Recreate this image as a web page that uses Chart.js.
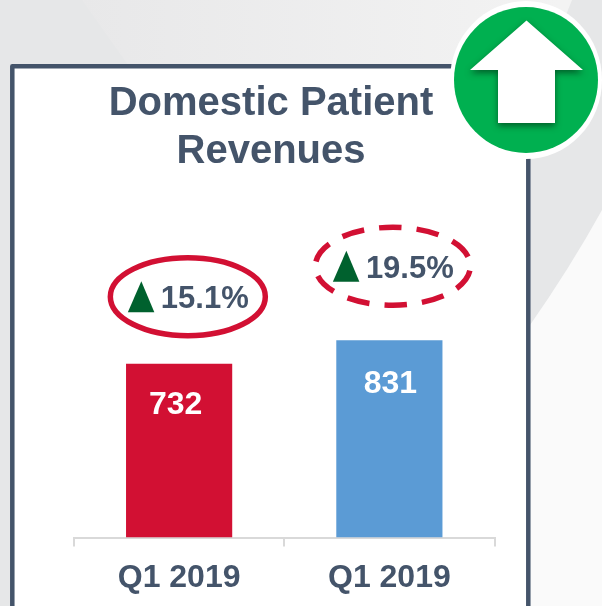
<!DOCTYPE html>
<html><head><meta charset="utf-8">
<style>html,body{margin:0;padding:0;background:#e6e7e8}canvas{display:block}</style>
<script src="https://cdn.jsdelivr.net/npm/chart.js@4"></script></head>
<body><div style="width:602px;height:606px;position:relative"><canvas id="c" width="602" height="606"></canvas></div>
<script>
const categories = ['Q1 2019', 'Q1 2019'];
const revenues = [732, 831];
const changes = ['15.1%', '19.5%'];
const barColors = ['#d21033', '#5b9bd5'];
const titleLines = ['Domestic Patient', 'Revenues'];
const FONT = '"Liberation Sans", Arial, sans-serif';
const TEXT = '#44546a', RED = '#d21033', UP = '#00612e';

const scenery = {
  id: 'scenery',
  beforeDraw(chart) {
    const c = chart.ctx;
    c.save();
    c.fillStyle = '#e6e7e8'; c.fillRect(0, 0, 602, 606);
    let g = c.createLinearGradient(80, 0, 560, 0);
    g.addColorStop(0, '#e8e8e9'); g.addColorStop(1, '#f3f3f3');
    c.fillStyle = g;
    c.beginPath(); c.moveTo(82, 0); c.lineTo(572, 0); c.lineTo(520, 130); c.lineTo(160, 110); c.closePath(); c.fill();
    c.fillStyle = '#fafafa';
    c.beginPath(); c.moveTo(602, 210); c.quadraticCurveTo(570, 268, 528, 328); c.lineTo(528, 606); c.lineTo(602, 606); c.closePath(); c.fill();
    c.fillStyle = '#ffffff'; c.strokeStyle = TEXT; c.lineWidth = 4.5;
    c.lineJoin = 'round';
    c.beginPath(); c.moveTo(12.3, 620); c.lineTo(12.3, 66.3); c.lineTo(528.3, 66.3); c.lineTo(528.3, 620); c.closePath();
    c.fill(); c.stroke();
    c.restore();
  },
  afterDraw(chart) {
    const c = chart.ctx, xs = chart.scales.x, ys = chart.scales.y;
    c.save();
    revenues.forEach((v, i) => {
      const x = xs.getPixelForValue(i), top = ys.getPixelForValue(v);
      c.fillStyle = '#fff'; c.font = 'bold 32px ' + FONT; c.textAlign = 'center'; c.textBaseline = 'alphabetic';
      c.fillText(String(v), x + (i ? 1 : -3.5), top + (i ? 53 : 50));
      const cx = x + (i ? 3.5 : 8.7), cy = top - (i ? 74 : 67);
      c.strokeStyle = RED; c.lineWidth = 5.5;
      c.setLineDash(i ? [22.5, 15.1] : []);
      c.lineDashOffset = i ? 33 : 0;
      c.beginPath(); c.ellipse(cx, cy, 77.5, 39, 0, 0, Math.PI * 2); c.stroke();
      c.setLineDash([]);
      c.fillStyle = UP;
      c.beginPath(); c.moveTo(cx - 46.5, cy - 15.5); c.lineTo(cx - 60, cy + 15.5); c.lineTo(cx - 33.5, cy + 15.5); c.closePath(); c.fill();
      c.fillStyle = TEXT; c.font = 'bold 31px ' + FONT; c.textAlign = 'left';
      c.fillText(changes[i], cx - 27, cy + 11.5);
    });
    // corner badge
    c.fillStyle = '#ffffff';
    c.beginPath(); c.ellipse(526, 80, 76, 79, 0, 0, Math.PI * 2); c.fill();
    c.fillStyle = '#00b050';
    c.beginPath(); c.ellipse(526, 80, 72, 73, 0, 0, Math.PI * 2); c.fill();
    c.shadowColor = 'rgba(0,70,30,0.75)'; c.shadowBlur = 6; c.shadowOffsetY = 3;
    c.fillStyle = '#ffffff';
    c.beginPath(); c.moveTo(526.5, 20.5); c.lineTo(583, 70); c.lineTo(555, 70); c.lineTo(555, 123); c.lineTo(498, 123); c.lineTo(498, 70); c.lineTo(470, 70); c.closePath(); c.fill();
    c.restore();
  }
};

new Chart(document.getElementById('c'), {
  type: 'bar',
  data: { labels: categories, datasets: [{ data: revenues, backgroundColor: barColors, borderWidth: 0, barPercentage: 0.505, categoryPercentage: 1 }] },
  plugins: [scenery],
  options: {
    responsive: false, animation: false, devicePixelRatio: 1,
    layout: { padding: { left: 47.5, right: 107.5, top: 80, bottom: 0 } },
    plugins: {
      legend: { display: false }, tooltip: { enabled: false },
      title: { display: true, text: titleLines, color: TEXT, font: { family: FONT, size: 40, weight: 'bold', lineHeight: 1.2 }, padding: { top: 0, bottom: 9 } }
    },
    scales: {
      x: { offset: true,
        afterFit(s) { s.height = 68.5; },
        grid: { display: true, drawOnChartArea: false, drawTicks: true, tickLength: 9, color: '#d9d9d9', lineWidth: 2 },
        border: { display: true, color: '#d9d9d9', width: 2 },
        ticks: { color: TEXT, font: { family: FONT, size: 32, weight: 'bold' }, padding: 12, maxRotation: 0 } },
      y: { min: 0, max: 1485,
        afterFit(s) { s.width = 26.5; },
        grid: { display: false }, border: { display: false }, ticks: { display: false } }
    }
  }
});
</script></body></html>
